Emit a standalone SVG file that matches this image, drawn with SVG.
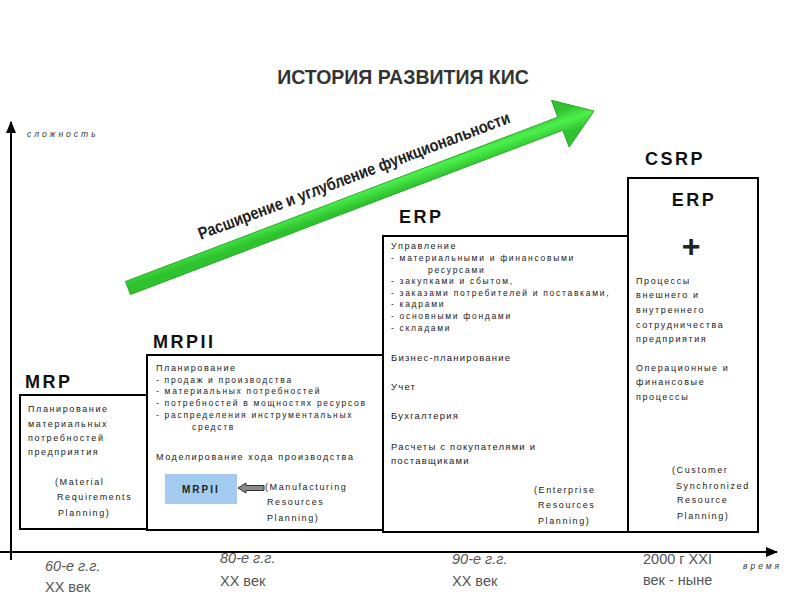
<svg xmlns="http://www.w3.org/2000/svg" width="800" height="600" viewBox="0 0 800 600">
<style>
text{font-family:"Liberation Sans",Arial,sans-serif;fill:#222}
.title{font-size:19.5px;font-weight:bold;fill:#333}
.lbl{font-size:18px;font-weight:bold;fill:#111;letter-spacing:2.5px}
.s{font-size:9px;letter-spacing:1.6px}
.m{font-size:8.5px;letter-spacing:1.7px}
.b{font-size:9.5px;letter-spacing:1.2px}
.ax{font-size:8.5px;font-style:italic;letter-spacing:3px;fill:#333}
.tl{font-size:14.5px;fill:#555}
.it{font-style:italic}
.box{fill:#fff;stroke:#000;stroke-width:2}
.axis{stroke:#000;stroke-width:2;fill:none}
</style>
<defs>
<marker id="ah" viewBox="0 0 12 10" refX="11" refY="5" markerWidth="12" markerHeight="10" markerUnits="userSpaceOnUse" orient="auto">
<path d="M0,0 L12,5 L0,10 Z" fill="#000"/>
</marker>
<linearGradient id="gr" gradientUnits="userSpaceOnUse" x1="358" y1="180" x2="366" y2="203">
<stop offset="0" stop-color="#2fc22f"/>
<stop offset="0.5" stop-color="#4cf04c"/>
<stop offset="1" stop-color="#2fc22f"/>
</linearGradient>
</defs>
<rect width="800" height="600" fill="#fff"/>
<text class="title" x="403" y="84" text-anchor="middle">ИСТОРИЯ РАЗВИТИЯ КИС</text>

<g id="connectors">
<line class="axis" x1="11" y1="560" x2="11" y2="122" marker-end="url(#ah)"/>
<line class="axis" x1="0" y1="552" x2="777" y2="552" marker-end="url(#ah)"/>
<polygon points="125.5,281.5 557.8,117.2 551.5,100.3 594,111 569.2,147.1 562.8,130.2 130.5,294.5" fill="url(#gr)" stroke="#29a829" stroke-width="1"/>
</g>
<text class="ax" x="27" y="137">сложность</text>
<text class="ax" x="743" y="569">время</text>
<text x="356" y="181" text-anchor="middle" font-size="17" font-weight="bold" fill="#111" textLength="332" lengthAdjust="spacingAndGlyphs" transform="rotate(-20.7 356 181)">Расширение и углубление функциональности</text>

<g id="mrp">
<text class="lbl" x="25" y="388">MRP</text>
<rect class="box" x="20" y="395" width="127" height="134"/>
<text class="s" x="28" y="412">Планирование</text>
<text class="s" x="28" y="427">материальных</text>
<text class="s" x="28" y="441">потребностей</text>
<text class="s" x="28" y="455">предприятия</text>
<text class="s" x="55" y="485">(Material</text>
<text class="s" x="57" y="500">Requirements</text>
<text class="s" x="58" y="516">Planning)</text>
</g>

<g id="mrpii">
<text class="lbl" x="153" y="348" letter-spacing="4">MRPII</text>
<rect class="box" x="147" y="355" width="236" height="175"/>
<text class="s" x="156" y="371">Планирование</text>
<text class="m" x="156" y="383">- продаж и производства</text>
<text class="m" x="156" y="394">- материальных потребностей</text>
<text class="m" x="156" y="406">- потребностей в мощностях ресурсов</text>
<text class="m" x="156" y="418">- распределения инструментальных</text>
<text class="m" x="192" y="430">средств</text>
<text class="s" x="156" y="460" letter-spacing="1.9">Моделирование хода производства</text>
<rect x="165" y="474" width="72" height="30" fill="#a3cbef"/>
<text x="182" y="493" font-size="10" font-weight="bold" letter-spacing="2" fill="#223">MRPII</text>
<polygon points="238,488 246,483 246,485.5 264,485.5 264,490.5 246,490.5 246,493" fill="#8a8a8a" stroke="#333" stroke-width="1"/>
<text class="s" x="265" y="490">(Manufacturing</text>
<text class="s" x="267" y="505">Resources</text>
<text class="s" x="267" y="521">Planning)</text>
</g>

<g id="erp">
<text class="lbl" x="399" y="223">ERP</text>
<rect class="box" x="383" y="236" width="245" height="296"/>
<text class="s" x="391" y="249" letter-spacing="1.2">Управление</text>
<text class="m" x="391" y="261">- материальными и финансовыми</text>
<text class="m" x="428" y="273">ресурсами</text>
<text class="m" x="391" y="284">- закупками и сбытом,</text>
<text class="m" x="391" y="296">- заказами потребителей и поставками,</text>
<text class="m" x="391" y="307">- кадрами</text>
<text class="m" x="391" y="319">- основными фондами</text>
<text class="m" x="391" y="331">- складами</text>
<text class="b" x="391" y="361">Бизнес-планирование</text>
<text class="b" x="391" y="390">Учет</text>
<text class="b" x="391" y="419">Бухгалтерия</text>
<text class="b" x="391" y="450">Расчеты с покупателями и</text>
<text class="b" x="391" y="464">поставщиками</text>
<text class="s" x="534" y="493">(Enterprise</text>
<text class="s" x="538" y="508">Resources</text>
<text class="s" x="538" y="524">Planning)</text>
</g>

<g id="csrp">
<text class="lbl" x="645" y="165">CSRP</text>
<rect class="box" x="628" y="178" width="130" height="354"/>
<text class="lbl" x="694" y="206" text-anchor="middle">ERP</text>
<text x="691" y="257" text-anchor="middle" font-size="32" font-weight="bold" fill="#111">+</text>
<text class="s" x="636" y="284">Процессы</text>
<text class="s" x="636" y="298">внешнего и</text>
<text class="s" x="636" y="313">внутреннего</text>
<text class="s" x="636" y="328">сотрудничества</text>
<text class="s" x="636" y="342">предприятия</text>
<text class="s" x="636" y="371">Операционные и</text>
<text class="s" x="636" y="385">финансовые</text>
<text class="s" x="636" y="400">процессы</text>
<text class="s" x="672" y="473">(Customer</text>
<text class="s" x="676" y="489">Synchronized</text>
<text class="s" x="677" y="503">Resource</text>
<text class="s" x="677" y="519">Planning)</text>
</g>

<g id="timeline">
<text class="tl it" x="45" y="571">60-е г.г.</text>
<text class="tl" x="45" y="592">XX век</text>
<text class="tl it" x="220" y="563">80-е г.г.</text>
<text class="tl" x="220" y="586">XX век</text>
<text class="tl it" x="452" y="564">90-е г.г.</text>
<text class="tl" x="452" y="586">XX век</text>
<text class="tl" x="643" y="564">2000 г XXI</text>
<text class="tl" x="643" y="585">век - ныне</text>
</g>
</svg>
